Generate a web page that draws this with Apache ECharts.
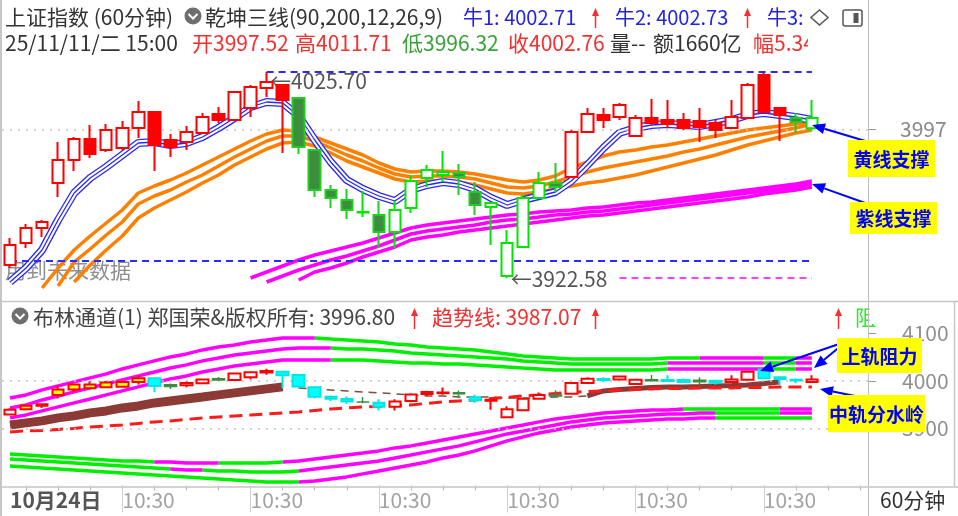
<!DOCTYPE html>
<html><head><meta charset="utf-8">
<script src="https://cdn.jsdelivr.net/npm/echarts@6/dist/echarts.min.js"></script>
<style>html,body{margin:0;padding:0;background:#fff;}#c{width:958px;height:516px;}</style>
</head><body><div id="c"></div>
<script>
const N = '-';
const categories = [
'2025-10-24 11:30','2025-10-24 14:00','2025-10-24 15:00',
'2025-10-27 10:30','2025-10-27 11:30','2025-10-27 14:00','2025-10-27 15:00',
'2025-10-28 10:30','2025-10-28 11:30','2025-10-28 14:00','2025-10-28 15:00',
'2025-10-29 10:30','2025-10-29 11:30','2025-10-29 14:00','2025-10-29 15:00',
'2025-10-30 10:30','2025-10-30 11:30','2025-10-30 14:00','2025-10-30 15:00',
'2025-10-31 10:30','2025-10-31 11:30','2025-10-31 14:00','2025-10-31 15:00',
'2025-11-03 10:30','2025-11-03 11:30','2025-11-03 14:00','2025-11-03 15:00',
'2025-11-04 10:30','2025-11-04 11:30','2025-11-04 14:00','2025-11-04 15:00',
'2025-11-05 10:30','2025-11-05 11:30','2025-11-05 14:00','2025-11-05 15:00',
'2025-11-06 10:30','2025-11-06 11:30','2025-11-06 14:00','2025-11-06 15:00',
'2025-11-07 10:30','2025-11-07 11:30','2025-11-07 14:00','2025-11-07 15:00',
'2025-11-10 10:30','2025-11-10 11:30','2025-11-10 14:00','2025-11-10 15:00',
'2025-11-11 10:30','2025-11-11 11:30','2025-11-11 14:00','2025-11-11 15:00'
];
const open = [
3929.2,3940.2,3947.7,3970.2,3981.7,3992.2,3986.7,3987.7,3997.7,4005.7,
3991.7,3990.7,3995.2,4004.7,4001.7,4007.7,4017.7,4019.2,4012.7,3986.7,
3966.7,3961.7,3955.45,3954.2,3945.7,3957.7,3972.7,3974.2,3975.2,3965.7,
3958.2,3923.7,3938.2,3962.7,3970.2,3973.2,3995.7,4004.2,4003.2,3993.7,
4002.7,4001.7,4001.7,4001.2,4000.2,3997.7,4002.7,4024.2,4007.7,4002.7,
3997.52];
const close = [
3939.2,3947.7,3950.7,3981.7,3992.2,3984.7,3996.7,3997.7,4005.7,3989.2,
3988.2,3995.7,4003.2,4001.7,4015.7,4018.2,4020.7,4011.7,3988.2,3966.7,
3962.7,3956.7,3955.7,3945.7,3956.7,3971.2,3976.7,3975.7,3973.2,3959.2,
3960.2,3940.2,3962.7,3970.2,3968.2,3995.7,4004.7,4001.7,4009.2,4002.7,
4000.2,3999.7,3997.7,3998.2,3996.7,4003.2,4019.2,4005.7,4004.2,4000.7,
4002.76];
const low = [
3927.7,3937.7,3943.2,3963.2,3976.2,3982.7,3985.7,3986.7,3992.7,3976.2,
3983.2,3986.7,3994.7,4000.2,4001.2,4003.2,4013.2,3985.2,3984.7,3963.2,
3957.7,3952.2,3953.2,3937.7,3937.7,3955.2,3968.2,3970.7,3964.2,3954.2,
3939.2,3922.58,3937.7,3962.2,3965.7,3972.7,3995.2,3997.7,4001.7,3993.2,
3999.2,3997.7,3996.7,3990.7,3992.7,3997.2,4002.2,4005.2,3991.2,3995.2,
3996.32];
const high = [
3942.7,3949.7,3951.7,3990.7,3993.2,3999.2,3999.7,4001.2,4011.2,4005.7,
3994.7,3998.7,4005.2,4008.2,4016.2,4019.2,4025.7,4019.7,4013.2,3987.2,
3969.2,3967.2,3966.2,3961.2,3961.2,3974.2,3979.2,3986.2,3979.7,3970.7,
3960.7,3946.7,3964.2,3975.7,3980.2,3996.7,4007.7,4007.7,4010.2,4004.2,
4012.2,4011.7,4005.2,4007.7,4001.7,4011.7,4020.2,4025.2,4008.2,4005.2,
4011.71];
// 乾坤三线: blue (centre of triple line), orange x3, magenta x3
const blueMid = [
3920.7,3927.7,3936.7,3951.7,3965.2,3972.7,3978.2,3984.2,3990.2,3990.7,
3989.2,3990.2,3993.2,3997.7,4002.7,4008.2,4010.7,4010.2,4003.7,3991.7,
3980.7,3971.7,3967.2,3963.7,3961.2,3966.7,3969.2,3970.7,3969.7,3967.2,
3962.7,3959.2,3961.7,3963.7,3965.7,3971.2,3979.2,3987.7,3995.2,3997.7,
3999.2,3999.7,3999.2,3998.7,4000.2,4001.7,4004.2,4005.2,4004.2,4003.2,
4001.7];
const orangeTop = [
N,N,3917.7,3927.7,3936.7,3943.7,3950.2,3956.7,3965.2,3968.7,
3971.7,3975.2,3979.2,3983.2,3987.2,3991.2,3994.7,3996.7,3996.2,3993.2,
3990.2,3987.2,3984.2,3980.2,3977.2,3975.7,3976.2,3976.2,3975.7,3974.7,
3973.2,3971.7,3970.7,3971.7,3973.7,3977.7,3980.7,3983.7,3985.7,3986.7,
3988.2,3989.2,3990.7,3992.2,3993.7,3995.2,3996.7,3997.7,3998.7,3999.7,
4000.2];
const orangeMid = [
N,N,N,3918.7,3930.7,3937.2,3944.2,3950.7,3959.7,3963.7,
3966.7,3970.7,3974.2,3978.7,3983.2,3987.2,3991.2,3993.7,3993.7,3991.2,
3987.7,3984.2,3981.2,3977.7,3974.7,3973.2,3973.7,3973.7,3973.2,3972.2,
3970.2,3968.2,3967.7,3968.7,3970.7,3973.2,3975.7,3977.7,3979.2,3980.7,
3982.2,3983.7,3985.7,3987.2,3989.2,3991.2,3993.2,3994.7,3996.2,3997.7,
3999.7];
const orangeBot = [
N,N,N,N,3920.7,3929.2,3936.7,3943.7,3952.7,3957.7,
3961.7,3965.7,3970.2,3974.2,3979.2,3983.2,3987.2,3990.2,3990.7,3988.7,
3985.2,3981.2,3978.2,3975.2,3972.2,3970.7,3971.2,3971.2,3970.7,3969.2,
3967.2,3965.2,3964.7,3965.7,3967.2,3968.7,3970.2,3971.2,3972.7,3974.2,
3976.2,3978.2,3980.2,3982.2,3984.2,3986.7,3989.2,3991.2,3993.2,3995.2,
3996.7];
const magentaTop = [
N,N,N,N,N,N,N,N,N,N,
N,N,N,N,N,3922.7,3925.7,3928.7,3931.7,3934.2,
3936.2,3938.2,3940.2,3942.7,3945.2,3947.7,3949.2,3950.2,3951.2,3952.2,
3953.2,3954.2,3954.7,3955.7,3956.2,3956.7,3957.7,3958.2,3959.2,3960.2,
3960.7,3961.7,3962.7,3963.7,3964.7,3965.7,3966.7,3967.7,3968.7,3969.7,
3971.2];
const magentaMid = [
N,N,N,N,N,N,N,N,N,N,
N,N,N,N,N,N,3920.7,3923.7,3926.7,3929.2,
3931.7,3933.7,3936.2,3938.7,3941.7,3944.7,3946.2,3947.2,3948.2,3949.2,
3950.7,3951.7,3952.2,3953.2,3954.2,3954.7,3955.7,3956.2,3957.2,3958.2,
3959.2,3960.2,3961.2,3962.2,3963.2,3964.2,3965.2,3966.2,3967.2,3968.2,
3969.7];
const magentaBot = [
N,N,N,N,N,N,N,N,N,N,
N,N,N,N,N,N,N,N,3921.7,3925.7,
3927.7,3930.2,3933.2,3935.7,3938.2,3941.7,3943.2,3944.2,3945.7,3946.7,
3947.7,3948.7,3949.7,3950.7,3951.7,3952.7,3953.7,3954.2,3955.2,3956.2,
3957.2,3958.2,3959.2,3960.2,3961.2,3962.2,3963.2,3964.7,3965.7,3966.7,
3968.2];
const levelHigh = 4025.70, levelLow = 3922.58, levelSupport = 3931.2, levelLast = 3997;
// 布林通道
const bollUp1 = [
3964.2,3970.5,3981.1,3989.5,3997.9,4006.3,4014.7,4025.2,4033.7,4042.1,
4050.5,4056.8,4065.2,4071.5,4075.7,4082.0,4086.2,4090.5,4090.5,4090.5,
4088.3,4086.2,4084.1,4082.0,4077.8,4075.7,4071.5,4069.4,4067.3,4065.2,
4061.0,4056.8,4052.6,4050.5,4048.4,4046.3,4046.3,4046.3,4046.3,4046.3,
4046.3,4048.4,4048.4,4048.4,4048.4,4048.4,4048.4,4048.4,4048.4,4048.4,
4048.4];
const bollUp2 = [
3943.2,3949.5,3960.0,3968.4,3976.9,3985.3,3993.7,4002.1,4010.5,4018.9,
4027.3,4033.7,4042.1,4048.4,4054.7,4058.9,4063.1,4067.3,4069.4,4069.4,
4069.4,4067.3,4067.3,4065.2,4063.1,4058.9,4056.8,4054.7,4052.6,4050.5,
4048.4,4046.3,4042.1,4040.0,4037.9,4035.8,4035.8,4035.8,4035.8,4035.8,
4035.8,4037.9,4037.9,4037.9,4037.9,4037.9,4037.9,4037.9,4037.9,4037.9,
4037.9];
const bollUp3 = [
3922.2,3928.5,3936.9,3945.3,3953.7,3962.1,3970.6,3979.0,3987.4,3995.8,
4004.2,4010.5,4018.9,4025.2,4031.6,4035.8,4040.0,4044.2,4044.2,4044.2,
4044.2,4044.2,4044.2,4042.1,4040.0,4037.9,4037.9,4035.8,4035.8,4033.7,
4031.6,4029.5,4027.3,4025.2,4023.1,4023.1,4023.1,4023.1,4023.1,4023.1,
4023.1,4025.2,4025.2,4025.2,4025.2,4025.2,4025.2,4025.2,4025.2,4025.2,
4025.2];
const bollDn1 = [
3846.4,3844.3,3842.2,3840.1,3838.0,3835.9,3833.8,3831.7,3831.7,3829.6,
3829.6,3827.5,3827.5,3827.5,3827.5,3827.5,3827.5,3829.6,3831.7,3835.9,
3840.1,3844.3,3848.5,3852.8,3859.1,3863.3,3869.6,3875.9,3882.2,3888.5,
3894.8,3901.1,3907.4,3913.8,3920.1,3924.3,3928.5,3932.7,3934.8,3936.9,
3939.0,3939.0,3941.1,3941.1,3941.1,3941.1,3941.1,3941.1,3941.1,3941.1,
3941.1];
const bollDn2 = [
3835.9,3833.8,3831.7,3829.6,3827.5,3825.4,3823.3,3821.2,3819.1,3817.0,
3814.9,3812.8,3812.8,3810.7,3810.7,3808.6,3808.6,3808.6,3810.7,3814.9,
3819.1,3823.3,3827.5,3831.7,3838.0,3844.3,3850.7,3857.0,3863.3,3871.7,
3880.1,3888.5,3894.8,3901.1,3907.4,3913.8,3918.0,3922.2,3924.3,3926.4,
3928.5,3930.6,3930.6,3932.7,3932.7,3932.7,3932.7,3932.7,3932.7,3932.7,
3932.7];
const bollDn3 = [
3821.2,3819.1,3817.0,3814.9,3812.8,3810.7,3808.6,3806.5,3804.4,3802.3,
3800.2,3798.1,3796.0,3793.9,3791.7,3789.6,3787.5,3787.5,3787.5,3789.6,
3793.9,3798.1,3804.4,3810.7,3817.0,3823.3,3829.6,3838.0,3844.3,3852.8,
3863.3,3873.8,3882.2,3890.6,3896.9,3903.2,3907.4,3911.6,3913.8,3915.9,
3918.0,3920.1,3920.1,3922.2,3922.2,3922.2,3922.2,3922.2,3922.2,3922.2,
3922.2];
// colour state of each band line: index ranges (inclusive) drawn in magenta, rest green
const bandMagenta = {
  up1: [[0, 19], [43, 47], [49, 50]],
  up2: [[0, 20], [41, 47], [49, 50]],
  up3: [[0, 20], [41, 47], [49, 50]],
  dn1: [[9, 13], [17, 42], [48, 50]],
  dn2: [[10, 12], [18, 44], [48, 50]],
  dn3: [[18, 44]]
};
const brownLeft = [
3907.4,3911.7,3915.9,3922.2,3926.4,3932.7,3936.9,3943.2,3947.4,3953.7,
3957.9,3962.1,3966.3,3970.6,3974.8,3979.0,3983.2,3987.4];
const brownRight = [
N,N,N,N,N,N,N,N,N,N,N,N,N,N,N,N,N,N,N,N,N,N,N,N,N,N,N,N,N,N,N,N,N,N,N,N,
3968.4,3979.0,3982.1,3984.2,3986.3,3987.4,3987.4,3988.4,3989.5,3990.5,3991.6,3994.7,3997.9];
const midThin = [
N,N,N,N,N,N,N,N,N,N,N,N,N,N,N,N,N,N,
3985.3,3983.2,3981.1,3979.0,3976.9,3974.8,3972.7,3970.6,3968.4,3968.4,
3966.3,3966.3,3966.3,3964.2,3964.2,3964.2,3966.3,3966.3,3968.4];
const trendLine = [
3892.7,3894.8,3895.9,3898.0,3900.1,3903.2,3905.3,3907.4,3910.6,3913.8,
3915.9,3919.0,3922.2,3924.3,3926.4,3928.5,3930.6,3932.7,3934.8,3938.0,
3941.1,3943.2,3945.3,3946.4,3948.5,3949.5,3952.7,3955.8,3957.9,3960.0,
3963.2,3965.3,3968.4,3970.6,3973.7,3975.8,3977.9,3979.0,3981.1,3982.1,
3983.2,3984.2,3984.2,3985.3,3985.3,3985.3,3986.3,3986.3,3987.4,3987.2,
3987.07];
const upperTicks = [3997];
const lowerTicks = [3900, 4000, 4100];
const labelIdx = [7, 15, 23, 31, 39, 47];

function range(a, b) { const r = []; for (let i = a; i <= b; i++) r.push(i); return r; }
const redIdx = range(0, 17).concat(range(35, 48));
const lowYellowIdx = range(1, 8);
const lowDarkIdx = [10, 13, 22, 28, 34, 40, 43];
function pick(test) {
  return open.map((o, i) => test(i) ? [open[i], close[i], low[i], high[i]] : [N, N, N, N]);
}
function inR(i, rs) { return rs.some(r => i >= r[0] && i <= r[1]); }
// magenta part: points inside ranges; green part: points outside, plus the shared boundary points
function magPart(data, rs) { return data.map((v, i) => inR(i, rs) ? v : N); }
function grnPart(data, rs) {
  return data.map((v, i) => (!inR(i, rs) || (i > 0 && !inR(i - 1, rs)) || (i < data.length - 1 && !inR(i + 1, rs))) ? v : N);
}
const axisCats = categories.concat(['pad1', 'pad2', 'pad3']);
const FONT = '"Noto Sans CJK SC","Noto Sans",sans-serif';
const G = '#00ee00', M = '#ff00ff';

function L(data, color, width, ax, z, extra) {
  const s = {type: 'line', xAxisIndex: ax, yAxisIndex: ax, data: data, showSymbol: false, symbol: 'none',
    lineStyle: {width: width, color: color}, itemStyle: {color: color}, z: z, silent: true, animation: false};
  return Object.assign(s, extra || {});
}
const series = [
  L(magentaTop, M, 3.5, 0, 2, {markLine: {silent: true, symbol: ['none', 'none'], label: {show: false},
    lineStyle: {color: '#2b2bff', width: 2, type: [7, 5]},
    data: [[{coord: [axisCats[16], levelHigh]}, {coord: [axisCats[50], levelHigh]}],
           [{coord: [axisCats[0], levelSupport]}, {coord: [axisCats[50], levelSupport]}]]}}),
  L(magentaMid, M, 3.5, 0, 2, {markLine: {silent: true, symbol: ['none', 'none'], label: {show: false},
    lineStyle: {color: '#ff40ff', width: 2, type: [7, 5]},
    data: [[{coord: [axisCats[38], levelLow]}, {coord: [axisCats[50], levelLow]}]]}}),
  L(magentaBot, M, 3.5, 0, 2, {markLine: {silent: true, symbol: ['none', 'none'], label: {show: false},
    lineStyle: {color: '#c4c4c4', width: 1.5, type: [2, 6]}, data: [{yAxis: levelLast}]}}),
  L(orangeTop, '#ff8000', 3.5, 0, 3),
  L(orangeMid, '#ff8000', 3.5, 0, 3),
  L(orangeBot, '#ff8000', 3.5, 0, 3),
  L(blueMid, '#2828ff', 8, 0, 4),
  L(blueMid, '#ffffff', 5.4, 0, 4),
  L(blueMid, '#2828ff', 1.3, 0, 4),
  {type: 'candlestick', xAxisIndex: 0, yAxisIndex: 0, z: 5, silent: true, animation: false, barWidth: 12,
   data: pick(i => redIdx.includes(i)),
   itemStyle: {color: '#ffffff', color0: '#ff0000', borderColor: '#ff0000', borderColor0: '#ff0000', borderWidth: 2},
   markPoint: {symbol: 'circle', symbolSize: 1, itemStyle: {color: 'rgba(0,0,0,0)'}, silent: true,
     label: {show: true, position: 'right', distance: 3, color: '#555', fontSize: 21, fontFamily: FONT,
       formatter: p => '←' + Number(p.data.coord[1]).toFixed(2)},
     data: [{coord: [axisCats[16], high[16]], label: {offset: [0, 9]}},
            {coord: [axisCats[31], low[31]], label: {offset: [0, 1]}}]}},
  {type: 'candlestick', xAxisIndex: 0, yAxisIndex: 0, z: 5, silent: true, animation: false, barWidth: 12,
   data: pick(i => !redIdx.includes(i)),
   itemStyle: {color: '#ffffff', color0: '#3b8e3b', borderColor: '#00e600', borderColor0: '#22cc22', borderWidth: 2}}
];
[[bollUp1, 'up1'], [bollUp2, 'up2'], [bollUp3, 'up3'], [bollDn1, 'dn1'], [bollDn2, 'dn2'], [bollDn3, 'dn3']].forEach(p => {
  series.push(L(grnPart(p[0], bandMagenta[p[1]]), G, 3.5, 1, 2));
  series.push(L(magPart(p[0], bandMagenta[p[1]]), M, 3.5, 1, 2));
});
series.push(
  L(brownLeft, '#8b3a36', 9, 1, 3),
  L(brownRight, '#8b3a36', 5, 1, 3),
  L(midThin, '#7a5040', 1.5, 1, 3, {lineStyle: {color: '#7a5040', width: 1.5, type: [8, 6]}}),
  L(trendLine, '#ff1a1a', 3, 1, 4, {lineStyle: {color: '#ff1a1a', width: 3, type: [13, 7]},
    markLine: {silent: true, symbol: ['none', 'none'], label: {show: false},
      lineStyle: {color: '#c4c4c4', width: 1.5, type: [2, 6]}, data: [{yAxis: 4000}, {yAxis: 3900}]}}),
  {type: 'candlestick', xAxisIndex: 1, yAxisIndex: 1, z: 5, silent: true, animation: false, barWidth: 12,
   data: pick(i => !lowYellowIdx.includes(i) && !lowDarkIdx.includes(i)),
   itemStyle: {color: '#ffffff', color0: '#00ffff', borderColor: '#ff0000', borderColor0: '#00e5e5', borderWidth: 2}},
  {type: 'candlestick', xAxisIndex: 1, yAxisIndex: 1, z: 5, silent: true, animation: false, barWidth: 12,
   data: pick(i => lowYellowIdx.includes(i)),
   itemStyle: {color: '#ffff00', color0: '#ffff00', borderColor: '#ff0000', borderColor0: '#ff0000', borderWidth: 2}},
  {type: 'candlestick', xAxisIndex: 1, yAxisIndex: 1, z: 5, silent: true, animation: false, barWidth: 12,
   data: pick(i => lowDarkIdx.includes(i)),
   itemStyle: {color: '#3d8b3d', color0: '#3d8b3d', borderColor: '#3d8b3d', borderColor0: '#3d8b3d', borderWidth: 1.5}}
);

function T(x, y, text, fill, size, weight, align, z, fam) {
  return {type: 'text', x: x, y: y, z: z == null ? 100 : z,
    style: {text: text, fill: fill, font: (weight || 'normal') + ' ' + (size || 21) + 'px ' + (fam || FONT),
      align: align || 'left', verticalAlign: 'middle', textAlign: align || 'left', textVerticalAlign: 'middle'}};
}
function arrow(x1, y1, x2, y2, color, w, hl, hw) {
  const dx = x2 - x1, dy = y2 - y1, len = Math.hypot(dx, dy), ux = dx / len, uy = dy / len;
  const bx = x2 - ux * hl, by = y2 - uy * hl, nx = -uy, ny = ux;
  return [
    {type: 'line', z: 102, shape: {x1: x1, y1: y1, x2: bx, y2: by}, style: {stroke: color, lineWidth: w}},
    {type: 'polygon', z: 102, shape: {points: [[x2, y2], [bx + nx * hw, by + ny * hw], [bx - nx * hw, by - ny * hw]]}, style: {fill: color}}
  ];
}
function line(x1, y1, x2, y2, c, w) {
  return {type: 'line', z: 100, shape: {x1: x1, y1: y1, x2: x2, y2: y2}, style: {stroke: c, lineWidth: w}};
}
function icon(cx, cy) {
  return [
    {type: 'circle', z: 100, shape: {cx: cx, cy: cy, r: 8.5}, style: {fill: '#6e6e6e'}},
    {type: 'polyline', z: 101, shape: {points: [[cx - 4.5, cy - 2], [cx, cy + 2.5], [cx + 4.5, cy - 2]]}, style: {stroke: '#fff', lineWidth: 2, fill: null}}
  ];
}
function box(x, y, w, h, text, size) {
  return [
    {type: 'rect', z: 110, shape: {x: x, y: y, width: w, height: h}, style: {fill: '#ffff00'}},
    T(x + w / 2, y + h / 2 + 1, text, '#0000ff', size || 19, 'bold', 'center', 111)
  ];
}
const BLUE = '#2323e6', RED = '#f23030', DARK = '#333333';
let elements = [];
elements.push(T(5, 17, '上证指数 (60分钟)', DARK));
elements = elements.concat(icon(193, 16));
elements.push(T(205, 17, '乾坤三线(90,200,12,26,9)', DARK));
elements.push(T(463, 17, '牛1: 4002.71', BLUE, 20));
elements = elements.concat(arrow(595.5, 28, 595.5, 8, RED, 1.5, 8, 3.5));
elements.push(T(615, 17, '牛2: 4002.73', BLUE, 20));
elements = elements.concat(arrow(747.5, 28, 747.5, 8, RED, 1.5, 8, 3.5));
elements.push(T(767, 17, '牛3:', BLUE, 20));
elements.push({type: 'polygon', z: 100, shape: {points: [[819.5, 10], [828, 17.5], [819.5, 25], [811, 17.5]]}, style: {stroke: '#555', lineWidth: 1.5, fill: null}});
elements.push({type: 'rect', z: 100, shape: {x: 843, y: 10, width: 19, height: 16, r: 2}, style: {stroke: '#555', lineWidth: 1.5, fill: null}});
elements.push({type: 'rect', z: 100, shape: {x: 853.5, y: 13, width: 5, height: 10}, style: {fill: '#555'}});

elements.push(T(5, 43, '25/11/11/二 15:00', DARK));
elements.push(T(192, 43, '开3997.52', RED));
elements.push(T(295, 43, '高4011.71', RED));
elements.push(T(402, 43, '低3996.32', '#37a337'));
elements.push(T(508, 43, '收4002.76', RED));
elements.push(T(610, 43, '量--', DARK));
elements.push(T(653, 43, '额1660亿', DARK));
elements.push(T(753, 43, '幅5.34', RED));
elements.push({type: 'rect', z: 101, shape: {x: 808, y: 30, width: 58, height: 26}, style: {fill: '#fff'}});

elements.push(T(5, 270, '用到未来数据', '#8f8f8f', 21, 'normal', 'left', 1));

elements = elements.concat(icon(20, 316));
elements.push(T(33, 317, '布林通道(1) 郑国荣&版权所有: 3996.80', '#444'));
elements = elements.concat(arrow(414.5, 329, 414.5, 308, RED, 1.5, 8, 3.5));
elements.push(T(432, 317, '趋势线: 3987.07', RED));
elements = elements.concat(arrow(595.5, 329, 595.5, 308, RED, 1.5, 8, 3.5));
elements = elements.concat(arrow(838.5, 329, 838.5, 308, RED, 1.5, 8, 3.5));
elements.push(T(855, 317, '阻', '#33e633'));
elements.push({type: 'rect', z: 101, shape: {x: 869.5, y: 303, width: 84, height: 21}, style: {fill: '#fff'}});

elements.push(T(880, 500, '60分钟', DARK));

elements.push(line(868.5, 0, 868.5, 516, '#bdbdbd', 1));
elements.push(line(0, 301.5, 958, 301.5, '#c6c6c6', 1.5));
elements.push(line(0, 487, 958, 487, '#c6c6c6', 1.5));
elements.push(line(1, 0, 1, 516, '#c6c6c6', 2));
elements.push(line(954.5, 301, 954.5, 487, '#c6c6c6', 1.5));

elements = elements.concat(box(848, 140, 87, 37, '黄线支撑'));
elements = elements.concat(box(850, 202, 87, 32, '紫线支撑'));
elements = elements.concat(box(837, 338, 85, 35, '上轨阻力'));
elements = elements.concat(box(828, 395, 97, 37, '中轨分水岭'));
const AB = '#0000ff';
elements = elements.concat(arrow(872, 143, 812, 125, AB, 2, 13, 5.5));
elements = elements.concat(arrow(868, 204, 812, 184, AB, 2, 13, 5.5));
elements = elements.concat(arrow(842, 343, 760, 371, AB, 2, 13, 5.5));
elements = elements.concat(arrow(842, 345, 814, 368, AB, 2, 13, 5.5));
elements = elements.concat(arrow(870, 399, 820, 389, AB, 2, 13, 5.5));

const option = {
  animation: false,
  backgroundColor: '#ffffff',
  textStyle: {fontFamily: FONT},
  grid: [
    {left: 2, top: 60, width: 866, height: 238},
    {left: 2, top: 302, width: 866, height: 183.5},
    {left: 2, top: 302, width: 866, height: 183.5}
  ],
  xAxis: [
    {type: 'category', gridIndex: 0, data: axisCats, show: false},
    {type: 'category', gridIndex: 1, data: axisCats, axisLine: {show: false}, splitLine: {show: false},
     axisTick: {show: true, alignWithLabel: true, interval: i => i % 2 === 1, length: 5, lineStyle: {color: '#b8b8b8'}},
     axisLabel: {show: false}},
    {type: 'category', gridIndex: 2, data: axisCats, axisLine: {show: false}, splitLine: {show: false},
     axisTick: {show: true, alignWithLabel: true, interval: i => labelIdx.includes(i), length: 27, lineStyle: {color: '#d0d0d0'}},
     axisLabel: {show: true, interval: i => i === 0 || labelIdx.includes(i), align: 'left', margin: 4,
       formatter: (v, i) => i === 0 ? '{d|10月24日}' : '{t|' + v.slice(11) + '}',
       rich: {d: {fontSize: 21, fontWeight: 'bold', color: '#555', fontFamily: FONT},
              t: {fontSize: 21, color: '#a3a3a3', fontFamily: FONT}}}}
  ],
  yAxis: [
    {type: 'value', gridIndex: 0, position: 'right', min: 3912.7, max: 4031.7, scale: true,
     splitLine: {show: false}, axisLine: {show: false},
     axisTick: {show: true, customValues: upperTicks, length: 8, lineStyle: {color: '#999'}},
     axisLabel: {show: true, customValues: upperTicks, margin: 32, color: '#888', fontSize: 21, fontFamily: FONT,
       formatter: v => String(Math.round(v))}},
    {type: 'value', gridIndex: 1, position: 'right', min: 3780, max: 4166, scale: true,
     splitLine: {show: false}, axisLine: {show: false},
     axisTick: {show: true, customValues: lowerTicks, length: 8, lineStyle: {color: '#999'}},
     axisLabel: {show: true, customValues: lowerTicks, margin: 34, color: '#909090', fontSize: 21, fontFamily: FONT,
       formatter: v => String(Math.round(v))}},
    {type: 'value', gridIndex: 2, show: false, min: 0, max: 1}
  ],
  series: series,
  graphic: {elements: elements}
};
const chart = echarts.init(document.getElementById('c'));
chart.setOption(option);
</script>
</body></html>
